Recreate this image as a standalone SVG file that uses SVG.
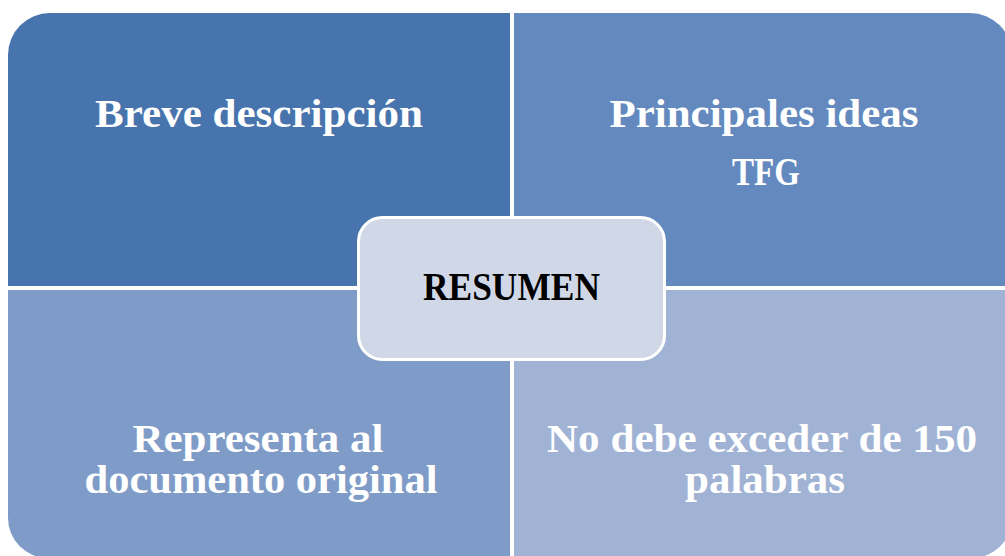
<svg xmlns="http://www.w3.org/2000/svg" width="1005" height="556" viewBox="0 0 1005 556">
<style>
.lbl{font-family:"Liberation Serif","Times New Roman",serif;font-weight:bold;font-size:39px;fill:#ffffff;text-anchor:middle}
.ctr{font-family:"Liberation Serif","Times New Roman",serif;font-weight:bold;font-size:39px;fill:#000000;text-anchor:middle}
</style>
<rect width="1005" height="556" fill="#ffffff"/>
<g id="q-tl">
<path d="M8,55 A42,42 0 0 1 50,13 L510,13 L510,286 L8,286 Z" fill="#4774AC"/>
<text class="lbl" x="259" y="127" textLength="328" lengthAdjust="spacingAndGlyphs">Breve descripción</text>
</g>
<g id="q-tr">
<path d="M514,13 L970,13 A42,42 0 0 1 1012,55 L1012,286 L514,286 Z" fill="#6389BE"/>
<text class="lbl" x="764" y="127" textLength="309" lengthAdjust="spacingAndGlyphs">Principales ideas</text>
<text class="lbl" x="766" y="185" textLength="68" lengthAdjust="spacingAndGlyphs">TFG</text>
</g>
<g id="q-bl">
<path d="M8,290 L510,290 L510,558 L48,558 A40,40 0 0 1 8,518 Z" fill="#7F9CC8"/>
<text class="lbl" x="258" y="452" textLength="251" lengthAdjust="spacingAndGlyphs">Representa al</text>
<text class="lbl" x="261" y="493" textLength="353" lengthAdjust="spacingAndGlyphs">documento original</text>
</g>
<g id="q-br">
<path d="M514,290 L1012,290 L1012,518 A40,40 0 0 1 972,558 L514,558 Z" fill="#A1B3D4"/>
<text class="lbl" x="762" y="452" textLength="430" lengthAdjust="spacingAndGlyphs">No debe exceder de 150</text>
<text class="lbl" x="765" y="493" textLength="160" lengthAdjust="spacingAndGlyphs">palabras</text>
</g>
<g id="connectors"></g>
<g id="resumen">
<rect x="358.5" y="217.5" width="306" height="142" rx="24" ry="24" fill="#D0D8E8" stroke="#ffffff" stroke-width="3"/>
<text class="ctr" x="511.5" y="300" textLength="177" lengthAdjust="spacingAndGlyphs">RESUMEN</text>
</g>
</svg>
